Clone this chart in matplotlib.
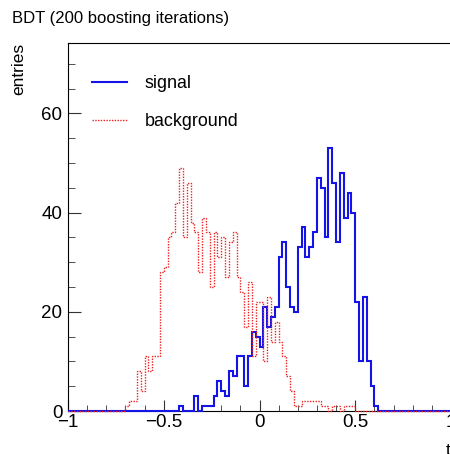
import numpy as np
import matplotlib
matplotlib.use("Agg")
import matplotlib.pyplot as plt
from matplotlib.lines import Line2D
from matplotlib.ticker import MultipleLocator

plt.rcParams['font.family'] = ['Liberation Sans', 'DejaVu Sans']

# histogram binning: 100 bins from -1 to 1
n_bins = 100
x_lo, x_hi = -1.0, 1.0

# background counts, bins starting at -0.72
bkg_start = -0.72
bkg_counts = [0, 1, 2, 2, 8, 4, 11, 8, 11, 11,
              28, 29, 35, 36, 42, 49, 35, 46, 38, 36,
              28, 39, 36, 25, 36, 31, 35, 27, 34, 36,
              27, 24, 17, 26, 11, 22, 22, 10, 23, 14,
              18, 14, 11, 7, 4, 1, 1, 2, 2, 2,
              2, 2, 1, 1, 0, 1, 1, 0, 1, 1, 1]

# signal counts, bins starting at -0.44
sig_start = -0.44
sig_counts = [0, 1, 0, 0, 0, 3, 0, 1, 1, 1,
              3, 6, 4, 3, 8, 7, 11, 11, 5, 11,
              16, 15, 13, 21, 17, 19, 21, 31, 34, 25,
              21, 20, 33, 37, 31, 33, 36, 47, 45, 35,
              53, 46, 34, 48, 39, 44, 40, 22, 10, 23,
              10, 5, 1]

x_ticks = [-1, -0.5, 0, 0.5, 1]
x_tick_labels = ['\u22121', '\u22120.5', '0', '0.5', '1']
y_ticks = [0, 20, 40, 60]


def full_hist(start, counts):
    # place the counts into the full -1..1 histogram
    h = np.zeros(n_bins)
    i0 = int(round((start - x_lo) / (x_hi - x_lo) * n_bins))
    h[i0:i0 + len(counts)] = counts
    return h


edges = np.linspace(x_lo, x_hi, n_bins + 1)
sig = full_hist(sig_start, sig_counts)
bkg = full_hist(bkg_start, bkg_counts)

W, H = 450, 454
fig = plt.figure(figsize=(W / 100, H / 100), dpi=100)
ax = fig.add_axes([68 / W, 43 / H, (451 - 68) / W, 368 / H])

sig_color = '#1414e6'
bkg_color = '#ee2020'
ax.stairs(sig, edges, color=sig_color, linewidth=1.5, clip_on=False, zorder=3)
ax.stairs(bkg, edges, color=bkg_color, linewidth=1.0, linestyle=(0, (1, 1)),
          clip_on=False, zorder=4)

ax.set_xlim(x_lo, x_hi)
ax.set_ylim(0, 74.2)
ax.set_xticks(x_ticks)
ax.set_xticklabels(x_tick_labels)
ax.set_yticks(y_ticks)
ax.xaxis.set_minor_locator(MultipleLocator(0.1))
ax.yaxis.set_minor_locator(MultipleLocator(5))
ax.tick_params(which='both', direction='in', labelsize=13.5, color='#333333')
ax.tick_params(axis='x', which='major', length=8, pad=2)
ax.tick_params(axis='x', which='minor', length=4.5)
ax.tick_params(axis='y', which='major', length=9, pad=4)
ax.tick_params(axis='y', which='minor', length=5)
for s in ax.spines.values():
    s.set_linewidth(0.8)
ax.spines['right'].set_visible(False)

handles = [Line2D([], [], color=sig_color, linewidth=1.5),
           Line2D([], [], color=bkg_color, linewidth=1.0, linestyle=(0, (1, 1)))]
ax.legend(handles, ['signal', 'background'], loc='upper left',
          bbox_to_anchor=(92 / W, 1 - 75 / H), bbox_transform=fig.transFigure,
          frameon=False, fontsize=12.9, handlelength=1.95, handletextpad=1.0,
          labelspacing=1.2, borderpad=0, borderaxespad=0)

fig.text(12 / W, 1 - 18 / H, 'BDT (200 boosting iterations)', fontsize=12,
         ha='left', va='center')
fig.text(19 / W, 1 - 43 / H, 'entries', fontsize=12.5, rotation=90,
         ha='center', va='top')
fig.text(446 / W, 1 - 455 / H, 't', fontsize=12.5, ha='left', va='baseline')

fig.savefig('out.png', dpi=100)
